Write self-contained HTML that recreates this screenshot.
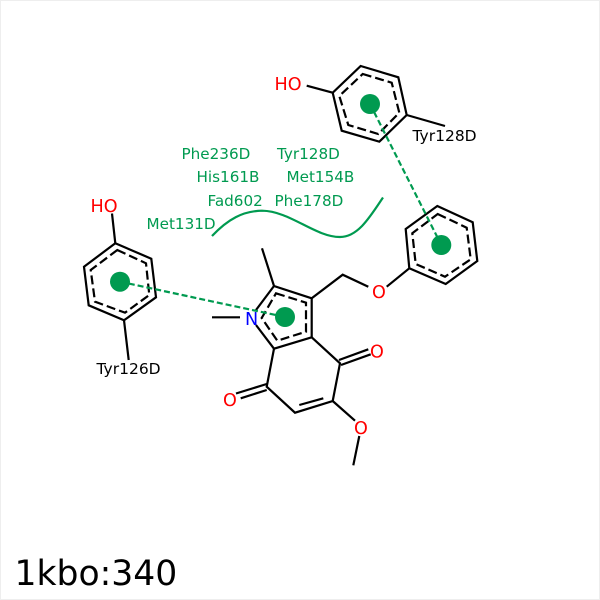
<!DOCTYPE html>
<html><head><meta charset="utf-8"><style>
html,body{margin:0;padding:0;background:#fff}
svg{display:block}
text{font-family:"DejaVu Sans",sans-serif}
</style></head><body>
<svg width="600" height="600" viewBox="0 0 600 600" xmlns="http://www.w3.org/2000/svg">
<rect x="0.5" y="0.5" width="599" height="599" fill="#fff" stroke="#eeeeee"/>
<path d="M212 236C228 219 243 211 262 210.7C290 211 315 237 340 237C358 237 370 217 383 197.5" fill="none" stroke="#009a50" stroke-width="2.2"/>
<g fill="none" stroke="#000" stroke-width="2.2">
<path d="M115.3 243.3L151.3 258.7L156 297.3L124 320.3L88.7 305.3L84 266.7Z"/>
<path d="M112 213.5L115.3 243.3M124 320.3L128.7 360"/>
<path d="M117.3 250L146 263.3L149.3 295L125 312.7L95 301.700L90.700 270Z" stroke-dasharray="9 4"/>
<path d="M262 248.300L274 286L311.700 298.300V337.300L274 348.700L256 325M256 310L274 286"/>
<path d="M212 317.300H240"/>
<path d="M276 293.300L306 302.700V331.700L277.300 340.700L261.700 318Z" stroke-dasharray="9 4"/>
<path d="M311.700 298.300L342.700 274.700L368.300 286.700M386.700 286.700L409.300 268.300"/>
<path d="M311.700 337.300L340 363.300L332.700 401L295 412.700L266.700 386.700L274 348.700"/>
<path d="M341 365L370.700 354.300M339 360L368.300 349.300"/>
<path d="M323.300 398.300L299.300 405"/>
<path d="M266.700 384L236 393.500M266.700 390L240.700 398.300"/>
<path d="M332.700 401L355 420.700M359.300 436L353.300 465.300"/>
<path d="M360.700 66L398.300 77.300L406.700 115L379.300 141.700L341.700 130.700L332.700 92.700Z"/>
<path d="M306.700 85.700L332.700 92.700M406.700 115L445 126"/>
<path d="M362.700 74L391.700 82.700L399.300 112.700L378.300 134L348.300 125L339.300 96Z" stroke-dasharray="9 4"/>
<path d="M437.300 206L472.700 222.300L477.300 261L445.700 284L409.300 268.300L405.700 229Z"/>
<path d="M437.700 214L466.700 227.700L470.700 259.300L445 276.700L415.700 264L412.300 233.300Z" stroke-dasharray="9 4"/>
</g>
<g fill="none" stroke="#009a50" stroke-width="2.2" stroke-dasharray="6 3">
<path d="M120 281.700L285 317"/>
<path d="M370 104L441.300 245"/>
</g>
<g fill="#009a50">
<circle cx="120" cy="281.700" r="10"/>
<circle cx="285" cy="317" r="10"/>
<circle cx="370" cy="104" r="10"/>
<circle cx="441.300" cy="245" r="10"/>
</g>
<g font-size="15.2" fill="#009a50">
<text x="181.500" y="159">Phe236D</text>
<text x="277" y="159">Tyr128D</text>
<text x="196.500" y="182">His161B</text>
<text x="286.500" y="182">Met154B</text>
<text x="207.500" y="206">Fad602</text>
<text x="274.500" y="206">Phe178D</text>
<text x="146.500" y="229">Met131D</text>
</g>
<g font-size="15.5" fill="#000">
<text x="96.500" y="374">Tyr126D</text>
<text x="412.500" y="141">Tyr128D</text>
</g>
<g font-size="17.6" fill="#f00">
<text x="90.500" y="212">HO</text>
<text x="274.500" y="90">HO</text>
<text x="372" y="298">O</text>
<text x="370" y="357.500">O</text>
<text x="223" y="406">O</text>
<text x="354" y="434">O</text>
</g>
<text x="245" y="325" font-size="17.6" fill="#00f">N</text>
<text x="14.500" y="585" font-size="34.6" fill="#000">1kbo:340</text>
</svg>
</body></html>
